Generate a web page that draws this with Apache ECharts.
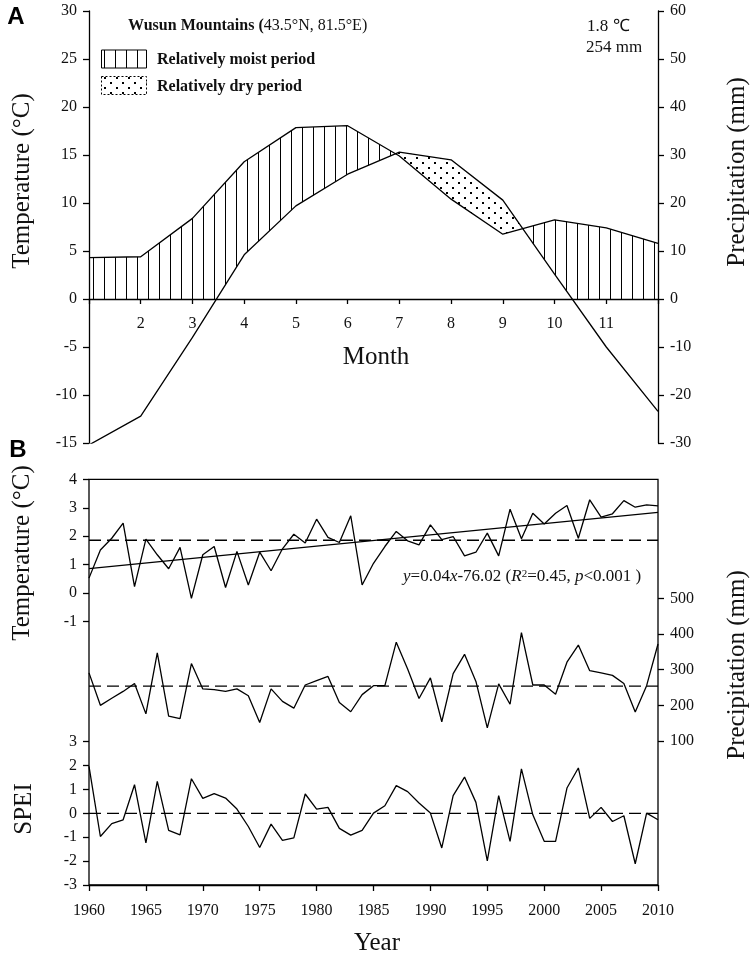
<!DOCTYPE html>
<html><head><meta charset="utf-8">
<script src="https://cdn.jsdelivr.net/npm/echarts@6.0.0/dist/echarts.min.js"></script>
<style>html,body{margin:0;padding:0;background:#fff}#c{width:756px;height:959px}</style>
</head><body><div id="c"></div>
<script>
// ---------- Panel A data (climate diagram) ----------
const months = [1,2,3,4,5,6,7,8,9,10,11,12];
const monthTemp = [-15.2,-12.2,-4.0,4.6,9.7,13.0,15.3,14.5,10.3,2.6,-5.0,-11.7];   // °C
const monthPrecip = [8.6,8.8,16.8,28.6,35.7,36.1,29.8,20.8,13.5,16.5,14.8,11.6];   // mm
const monthLabels = ['', '2','3','4','5','6','7','8','9','10','11',''];
const annualMeanTempText = '1.8 ℃';
const annualPrecipText = '254 mm';

// ---------- Panel B data (annual series) ----------
const years = [1960,1961,1962,1963,1964,1965,1966,1967,1968,1969,1970,1971,1972,1973,1974,1975,1976,1977,1978,1979,1980,1981,1982,1983,1984,1985,1986,1987,1988,1989,1990,1991,1992,1993,1994,1995,1996,1997,1998,1999,2000,2001,2002,2003,2004,2005,2006,2007,2008,2009,2010];
const annualTemp = [0.53,1.52,1.93,2.46,0.23,1.90,1.35,0.86,1.61,-0.18,1.35,1.64,0.20,1.47,0.29,1.44,0.79,1.56,2.07,1.76,2.60,1.96,1.78,2.72,0.29,1.05,1.64,2.17,1.84,1.70,2.40,1.88,1.99,1.31,1.44,2.11,1.31,2.95,1.91,2.81,2.43,2.81,3.08,1.93,3.28,2.67,2.79,3.25,3.02,3.10,3.07];
const annualPrecip = [291,200,220,239,261,176,347,170,163,317,246,244,239,246,227,152,246,211,192,257,269,281,208,182,230,255,255,377,302,219,277,154,289,343,267,137,260,203,404,257,257,231,321,369,297,291,284,261,181,255,372];
const annualSPEI = [1.97,-0.97,-0.43,-0.27,1.20,-1.24,1.34,-0.71,-0.90,1.45,0.63,0.83,0.64,0.18,-0.55,-1.43,-0.45,-1.13,-1.03,0.81,0.18,0.25,-0.63,-0.91,-0.71,0.01,0.32,1.16,0.91,0.43,0.01,-1.45,0.74,1.52,0.46,-1.99,0.74,-1.17,1.86,-0.06,-1.17,-1.17,1.06,1.90,-0.21,0.25,-0.34,-0.10,-2.11,0.01,-0.27];
const tempMean = 1.86;
const precipMean = 254;
const speiMean = 0;
const trendYears = [1960, 2010];
const trendValues = [0.86, 2.84];

// ---------- helpers ----------
const SERIF = '"Liberation Serif","Times New Roman",serif';
const SANS = '"Liberation Sans",Arial,sans-serif';
const INK = '#111';
const LW = 1.3;

function makePattern(kind){
  const c = document.createElement('canvas');
  const g = c.getContext('2d');
  g.fillStyle = '#000';
  if (kind === 'hatch'){ c.width = 11; c.height = 4; g.fillRect(5,0,1,4); }
  else { c.width = 12; c.height = 10; g.fillRect(2,2,2,2); g.fillRect(8,7,2,2); }
  return {image: c, repeat: 'repeat'};
}
const hatchPat = makePattern('hatch');
const dotPat = makePattern('dots');

// Build moist / dry polygons (precipitation plotted on a 2:1 scale against temperature)
function buildPolygons(){
  const T = monthTemp, P = monthPrecip.map(v => v/2);
  const pts = [];
  for (let i=0;i<months.length-1;i++){
    pts.push({x:months[i], t:T[i], p:P[i]});
    const fr = [];
    const d0 = P[i]-T[i], d1 = P[i+1]-T[i+1];
    if (d0*d1 < 0) fr.push(d0/(d0-d1));
    if (T[i]*T[i+1] < 0) fr.push(T[i]/(T[i]-T[i+1]));
    fr.sort((a,b)=>a-b).forEach(f=>{
      pts.push({x:months[i]+f*(months[i+1]-months[i]), t:T[i]+f*(T[i+1]-T[i]), p:P[i]+f*(P[i+1]-P[i])});
    });
  }
  const n = months.length-1;
  pts.push({x:months[n], t:T[n], p:P[n]});
  const polys = [];
  let cur = null;
  for (let k=0;k<pts.length-1;k++){
    const a = pts[k], b = pts[k+1];
    const moist = (a.p+b.p)/2 > (a.t+b.t)/2;
    const type = moist ? 'moist' : 'dry';
    const up = q => moist ? q.p : q.t;
    const lo = q => moist ? Math.max(q.t,0) : q.p;
    if (!cur || cur.type !== type){
      cur = {type, upper:[[a.x, up(a)]], lower:[[a.x, lo(a)]]};
      polys.push(cur);
    }
    cur.upper.push([b.x, up(b)]);
    cur.lower.push([b.x, lo(b)]);
  }
  return polys;
}
const polygons = buildPolygons();

const chart = echarts.init(document.getElementById('c'), null, {renderer:'canvas'});

const axisLineStyle = {color:'#000', width:LW};
const tickLabel = {fontFamily:SERIF, fontSize:16, color:INK};

function hiddenX(grid, min, max){ return {type:'value', gridIndex:grid, min, max, show:false}; }
function hiddenY(grid){ return {type:'value', gridIndex:grid, min:0, max:1, show:false}; }

const option = {
  animation:false,
  backgroundColor:'#fff',
  grid:[
    {left:89, right:98, top:11, height:432},
    {left:89, right:98, top:479.3, height:405.7, show:true, borderColor:'#000', borderWidth:LW, backgroundColor:'transparent'},
    {left:89, right:98, top:479.3, height:142.4},
    {left:89, right:98, top:598.3, height:142.7},
    {left:89, right:98, top:741.7, height:143.3},
    {left:89, right:98, top:11, height:288}   // month axis sitting on the 0 line of panel A
  ],
  xAxis:[
    hiddenX(0,1,12),
    hiddenX(1,1960,2010),
    hiddenX(2,1960,2010),
    hiddenX(3,1960,2010),
    {type:'value', gridIndex:4, min:1960, max:2010, interval:5,
     axisLine:{show:true, onZero:false, lineStyle:axisLineStyle},
     axisTick:{show:true, length:6, lineStyle:axisLineStyle},
     axisLabel:Object.assign({margin:18, formatter:v=>String(v)}, tickLabel),
     splitLine:{show:false}},
    {type:'value', gridIndex:5, min:1, max:12, interval:1,
     axisLine:{show:true, onZero:false, lineStyle:axisLineStyle},
     axisTick:{show:true, length:5, lineStyle:axisLineStyle},
     axisLabel:Object.assign({margin:17, formatter:v=>monthLabels[v-1]}, tickLabel),
     splitLine:{show:false}}
  ],
  yAxis:[
    {type:'value', gridIndex:0, min:-15, max:30, interval:5, position:'left',
     axisLine:{show:true, onZero:false, lineStyle:axisLineStyle}, axisTick:{show:true, length:6, lineStyle:axisLineStyle},
     axisLabel:Object.assign({margin:12}, tickLabel), splitLine:{show:false}},
    {type:'value', gridIndex:0, min:-30, max:60, interval:10, position:'right',
     axisLine:{show:true, onZero:false, lineStyle:axisLineStyle}, axisTick:{show:true, length:6, lineStyle:axisLineStyle},
     axisLabel:Object.assign({margin:12}, tickLabel), splitLine:{show:false}},
    hiddenY(1),
    {type:'value', gridIndex:2, min:-1, max:4, interval:1, position:'left',
     axisLine:{show:false}, axisTick:{show:true, length:6, lineStyle:axisLineStyle},
     axisLabel:Object.assign({margin:12}, tickLabel), splitLine:{show:false}},
    {type:'value', gridIndex:3, min:100, max:500, interval:100, position:'right',
     axisLine:{show:false}, axisTick:{show:true, length:6, lineStyle:axisLineStyle},
     axisLabel:Object.assign({margin:12}, tickLabel), splitLine:{show:false}},
    {type:'value', gridIndex:4, min:-3, max:3, interval:1, position:'left',
     axisLine:{show:false}, axisTick:{show:true, length:6, lineStyle:axisLineStyle},
     axisLabel:Object.assign({margin:12}, tickLabel), splitLine:{show:false}},
    hiddenY(5)
  ],
  series:[
    {type:'custom', xAxisIndex:0, yAxisIndex:0, silent:true, z:1,
     data: polygons.map((p,i)=>[i]),
     renderItem:(params, api)=>{
       const pg = polygons[params.dataIndex];
       const pts = pg.upper.concat(pg.lower.slice().reverse()).map(q=>api.coord(q));
       return {type:'polygon', shape:{points:pts}, style:{fill: pg.type==='moist' ? hatchPat : dotPat, stroke:null}};
     }},
    {type:'line', xAxisIndex:0, yAxisIndex:0, data:months.map((m,i)=>[m, monthTemp[i]]), symbol:'none', z:3,
     lineStyle:{color:'#000', width:LW}},
    {type:'line', xAxisIndex:0, yAxisIndex:1, data:months.map((m,i)=>[m, monthPrecip[i]]), symbol:'none', z:3,
     lineStyle:{color:'#000', width:LW}},

    {type:'line', xAxisIndex:2, yAxisIndex:3, data:years.map((y,i)=>[y, annualTemp[i]]), symbol:'none', clip:false,
     lineStyle:{color:'#000', width:LW}},
    {type:'line', xAxisIndex:2, yAxisIndex:3, data:[[years[0], tempMean],[years[years.length-1], tempMean]], symbol:'none',
     lineStyle:{color:'#000', width:LW, type:[12,6]}},
    {type:'line', xAxisIndex:2, yAxisIndex:3, data:trendYears.map((y,i)=>[y, trendValues[i]]), symbol:'none',
     lineStyle:{color:'#000', width:LW}},

    {type:'line', xAxisIndex:3, yAxisIndex:4, data:years.map((y,i)=>[y, annualPrecip[i]]), symbol:'none', clip:false,
     lineStyle:{color:'#000', width:LW}},
    {type:'line', xAxisIndex:3, yAxisIndex:4, data:[[years[0], precipMean],[years[years.length-1], precipMean]], symbol:'none',
     lineStyle:{color:'#000', width:LW, type:[12,6]}},

    {type:'line', xAxisIndex:4, yAxisIndex:5, data:years.map((y,i)=>[y, annualSPEI[i]]), symbol:'none', clip:false,
     lineStyle:{color:'#000', width:LW}},
    {type:'line', xAxisIndex:4, yAxisIndex:5, data:[[years[0], speiMean],[years[years.length-1], speiMean]], symbol:'none',
     lineStyle:{color:'#000', width:LW, type:[12,6]}}
  ],
  graphic:[
    {type:'text', x:16, y:17, style:{text:'A', font:'bold 24px '+SANS, fill:'#000', align:'center', verticalAlign:'middle'}},
    {type:'text', x:18, y:450, style:{text:'B', font:'bold 24px '+SANS, fill:'#000', align:'center', verticalAlign:'middle'}},
    {type:'text', x:128, y:26, style:{
      text:'{b|Wusun Mountains (}{n|43.5°N, 81.5°E)}', verticalAlign:'middle', align:'left',
      rich:{b:{fontFamily:SERIF, fontSize:16, fontWeight:'bold', fill:INK, color:INK}, n:{fontFamily:SERIF, fontSize:16, fill:INK, color:INK}}}},
    {type:'rect', shape:{x:101.5, y:50, width:45, height:18}, style:{fill:hatchPat, stroke:'#000', lineWidth:1}},
    {type:'rect', shape:{x:101.5, y:76.5, width:45, height:18}, style:{fill:dotPat, stroke:'#000', lineWidth:1, lineDash:[2,2]}},
    {type:'text', x:157, y:60, style:{text:'Relatively moist period', font:'bold 16px '+SERIF, fill:INK, verticalAlign:'middle'}},
    {type:'text', x:157, y:87, style:{text:'Relatively dry period', font:'bold 16px '+SERIF, fill:INK, verticalAlign:'middle'}},
    {type:'text', x:587, y:27, style:{text:annualMeanTempText, font:'17px '+SERIF, fill:INK, verticalAlign:'middle'}},
    {type:'text', x:586, y:48, style:{text:annualPrecipText, font:'17px '+SERIF, fill:INK, verticalAlign:'middle'}},
    {type:'text', x:376, y:357, style:{text:'Month', font:'25px '+SERIF, fill:INK, align:'center', verticalAlign:'middle'}},
    {type:'text', x:377, y:943, style:{text:'Year', font:'25px '+SERIF, fill:INK, align:'center', verticalAlign:'middle'}},
    {type:'text', x:22, y:181, rotation:Math.PI/2, style:{text:'Temperature (°C)', font:'25px '+SERIF, fill:INK, align:'center', verticalAlign:'middle'}},
    {type:'text', x:737, y:172, rotation:Math.PI/2, style:{text:'Precipitation (mm)', font:'25px '+SERIF, fill:INK, align:'center', verticalAlign:'middle'}},
    {type:'text', x:22, y:553, rotation:Math.PI/2, style:{text:'Temperature (°C)', font:'25px '+SERIF, fill:INK, align:'center', verticalAlign:'middle'}},
    {type:'text', x:737, y:665, rotation:Math.PI/2, style:{text:'Precipitation (mm)', font:'25px '+SERIF, fill:INK, align:'center', verticalAlign:'middle'}},
    {type:'text', x:24, y:809, rotation:Math.PI/2, style:{text:'SPEI', font:'25px '+SERIF, fill:INK, align:'center', verticalAlign:'middle'}},
    {type:'text', x:403, y:577, style:{
      text:'{i|y}{n|=0.04}{i|x}{n|-76.02 (}{i|R}{s|2}{n|=0.45, }{i|p}{n|<0.001 )}', verticalAlign:'middle', align:'left',
      rich:{
        i:{fontFamily:SERIF, fontSize:17, fontStyle:'italic', fill:INK, color:INK},
        n:{fontFamily:SERIF, fontSize:17, fill:INK, color:INK},
        s:{fontFamily:SERIF, fontSize:11, fill:INK, color:INK, verticalAlign:'top'}
      }}}
  ]
};
chart.setOption(option);
</script>
</body></html>
